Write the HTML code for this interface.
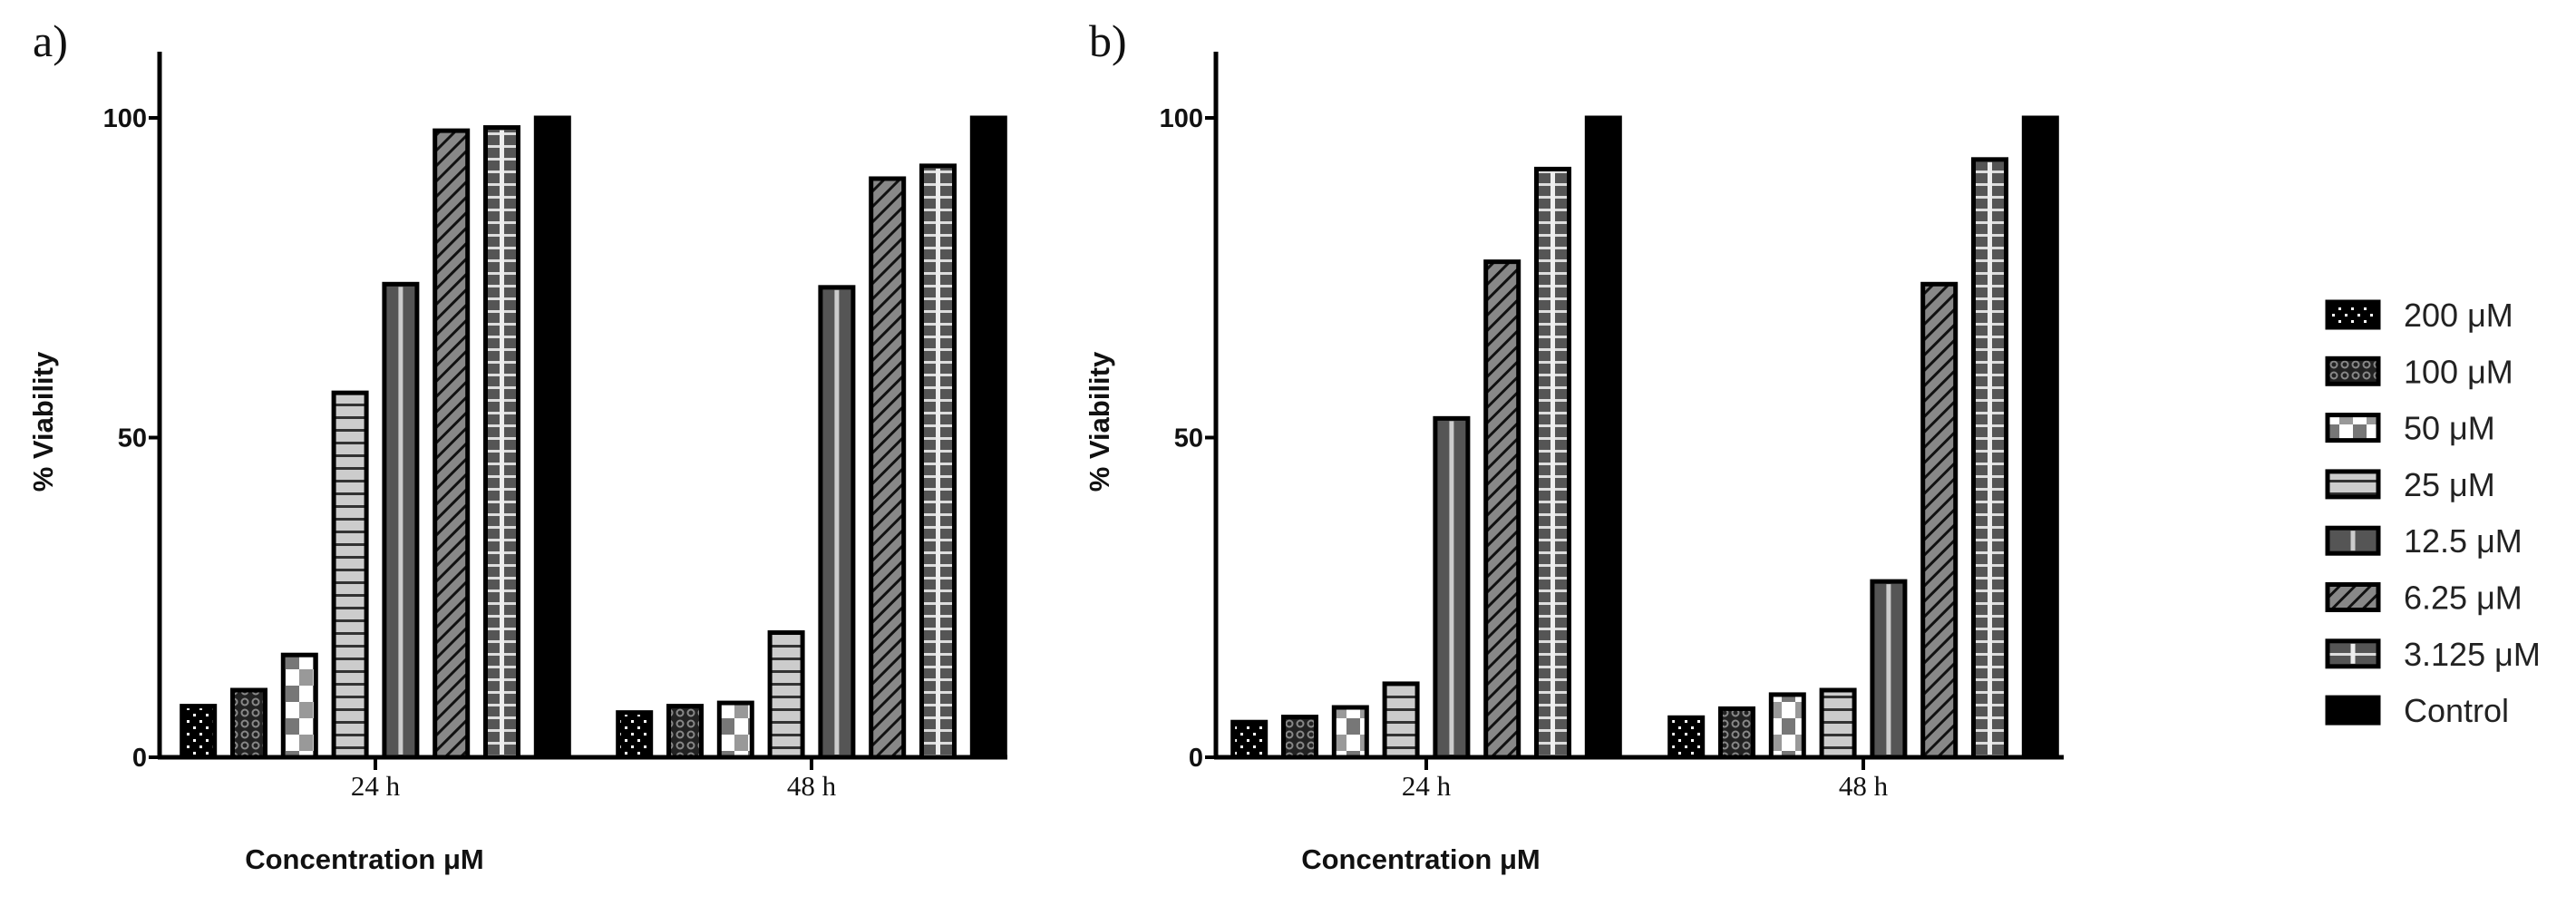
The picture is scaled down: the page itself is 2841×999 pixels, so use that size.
<!DOCTYPE html>
<html><head><meta charset="utf-8"><style>
html,body{margin:0;padding:0;background:#fff;}
svg{display:block;}
.tick{font-family:"Liberation Sans",sans-serif;font-weight:bold;font-size:29px;fill:#111;}
.ylab{font-family:"Liberation Sans",sans-serif;font-weight:bold;font-size:31px;fill:#111;}
.cat{font-family:"Liberation Serif",serif;font-size:31px;fill:#111;}
.pl{font-family:"Liberation Serif",serif;font-size:50px;fill:#111;}
.leg{font-family:"Liberation Sans",sans-serif;font-size:36px;fill:#222;}
</style></head><body>
<svg id="chart" width="2841" height="999" viewBox="0 0 2841 999" xmlns="http://www.w3.org/2000/svg">
<defs>
<pattern id="p0" width="14" height="14" patternUnits="userSpaceOnUse"><rect width="14" height="14" fill="#000"/><rect x="3" y="3" width="3" height="3" fill="#fff"/><rect x="10" y="10" width="3" height="3" fill="#fff"/></pattern>
<pattern id="p1" width="12" height="12" patternUnits="userSpaceOnUse"><rect width="12" height="12" fill="#222"/><circle cx="6" cy="6" r="3.5" fill="none" stroke="#888" stroke-width="2"/></pattern>
<pattern id="p2" width="30" height="36" patternUnits="userSpaceOnUse"><rect width="30" height="36" fill="#fff"/><rect x="15" y="0" width="15" height="18" fill="#777"/><rect x="0" y="18" width="15" height="18" fill="#999"/></pattern>
<pattern id="p3" width="10" height="14" patternUnits="userSpaceOnUse"><rect width="10" height="14" fill="#ccc"/><rect y="11" width="10" height="3" fill="#333"/></pattern>
<pattern id="p4" width="10" height="10" patternUnits="userSpaceOnUse"><rect width="10" height="10" fill="#555"/></pattern>
<pattern id="p5" width="12" height="12" patternUnits="userSpaceOnUse" patternTransform="rotate(45)"><rect width="12" height="12" fill="#888"/><rect width="3" height="12" fill="#111"/></pattern>
<pattern id="p6" width="10" height="14" patternUnits="userSpaceOnUse"><rect width="10" height="14" fill="#555"/><rect y="6" width="10" height="3" fill="#ddd"/></pattern>
<pattern id="p7" width="10" height="10" patternUnits="userSpaceOnUse"><rect width="10" height="10" fill="#000"/></pattern>
</defs>
<g id="root"></g>
</svg>
<script>
const categories = ["24 h", "48 h"];
const seriesNames = ["200 μM","100 μM","50 μM","25 μM","12.5 μM","6.25 μM","3.125 μM","Control"];
const panelA24 = [8, 10.5, 16, 57, 74, 98, 98.5, 100];
const panelA48 = [7, 8, 8.5, 19.5, 73.5, 90.5, 92.5, 100];
const panelB24 = [5.5, 6.3, 7.8, 11.5, 53, 77.5, 92, 100];
const panelB48 = [6.2, 7.6, 9.8, 10.5, 27.5, 74, 93.5, 100];
const yTicks = [0, 50, 100];

const NS = "http://www.w3.org/2000/svg";
const root = document.getElementById('root');
function mk(tag, attrs, parent, text){
  const e = document.createElementNS(NS, tag);
  for (const k in attrs) e.setAttribute(k, attrs[k]);
  if (text !== undefined) e.textContent = text;
  (parent || root).appendChild(e);
  return e;
}
const y0 = 835, yScale = 7.05;
function yPos(v){ return y0 - v * yScale; }
function centerLine(si, x, y, w, h, g){
  if (si === 4 || si === 6) {
    mk('rect', {x: x + w / 2 - 2.5, y: y + 3, width: 5, height: Math.max(0, h - 6), fill: si === 4 ? '#ccc' : '#eee'}, g);
  }
}

function panel(label, axisX, centers, data, key){
  const g = mk('g', {});
  
  
  const pl = mk('text', {x: axisX - 140, y: 62, class: 'pl'}, g, label);
  
  
  const ya = mk('line', {x1: axisX, y1: 57, x2: axisX, y2: y0 + 2, stroke: '#000', 'stroke-width': 5}, g);
  
  
  const xa = mk('line', {x1: axisX - 2, y1: y0, x2: axisX + 935, y2: y0, stroke: '#000', 'stroke-width': 5}, g);
  
  
  yTicks.forEach(t => {
    mk('line', {x1: axisX - 12, y1: yPos(t), x2: axisX, y2: yPos(t), stroke: '#000', 'stroke-width': 4}, g);
    const tl = mk('text', {x: axisX - 14, y: yPos(t) + 10, class: 'tick', 'text-anchor': 'end'}, g, String(t));
    
    
  });
  const yt = mk('text', {x: 0, y: 0, class: 'ylab', 'text-anchor': 'middle', transform: `translate(${axisX - 118},465) rotate(-90)`}, g, '% Viability');
  
  
  const xt = mk('text', {x: axisX + 226, y: 958, class: 'ylab', 'text-anchor': 'middle'}, g, 'Concentration μM');
  
  
  const pitch = 55.8, bw = 36;
  categories.forEach((c, ci) => {
    const cx = centers[ci];
    mk('line', {x1: cx, y1: y0, x2: cx, y2: y0 + 14, stroke: '#000', 'stroke-width': 4}, g);
    const cl = mk('text', {x: cx, y: 877, class: 'cat', 'text-anchor': 'middle'}, g, c);
    
    
    data[ci].forEach((v, si) => {
      const x = cx + (si - 3.5) * pitch - bw / 2;
      const r = mk('rect', {x: x, y: yPos(v), width: bw, height: y0 - yPos(v), fill: `url(#p${si})`, stroke: '#000', 'stroke-width': 5}, g);
      
      
      centerLine(si, x, yPos(v), bw, y0 - yPos(v), g);
    });
  });
}
panel('a)', 176, [414, 895], [panelA24, panelA48], 'a');
panel('b)', 1341, [1573, 2055], [panelB24, panelB48], 'b');

const lg = mk('g', {});


seriesNames.forEach((n, i) => {
  const cy = 347 + i * 62.3;
  const sw = mk('rect', {x: 2567, y: cy - 14, width: 56, height: 28, fill: `url(#p${i})`, stroke: '#000', 'stroke-width': 5}, lg);
  
  
  centerLine(i, 2567, cy - 14, 56, 28, lg);
  const t = mk('text', {x: 2651, y: cy + 13, class: 'leg'}, lg, n);
  
  
});
</script>
</body></html>
